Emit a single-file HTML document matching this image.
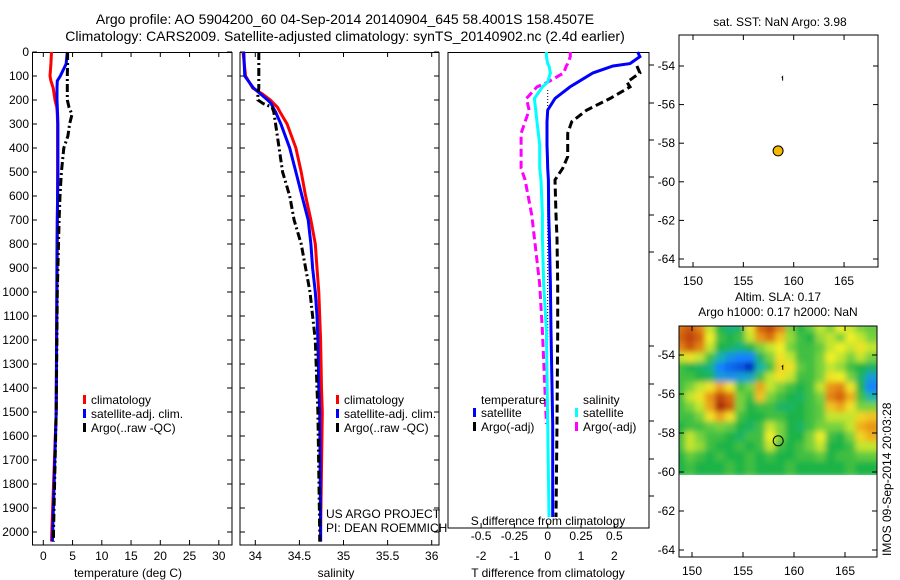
<!DOCTYPE html>
<html><head><meta charset="utf-8"><style>
html,body{margin:0;padding:0;background:#fff}
svg{display:block;font-family:"Liberation Sans",Arial,sans-serif}
text{fill:#000}
</style></head><body>
<svg id="s" width="900" height="580" viewBox="0 0 900 580">
<defs>
<filter id="blur" x="-5%" y="-5%" width="110%" height="110%"><feGaussianBlur stdDeviation="3"/></filter>
<clipPath id="mapclip"><rect x="679" y="326" width="198" height="149"/></clipPath>
</defs>
<text x="345" y="24" font-size="14" text-anchor="middle">Argo profile: AO 5904200_60 04-Sep-2014 20140904_645 58.4001S 158.4507E</text>
<text x="345" y="41" font-size="14" text-anchor="middle">Climatology: CARS2009. Satellite-adjusted climatology: synTS_20140902.nc (2.4d earlier)</text>
<g id="g"></g>
</svg>
<script>
// ---- data ----
const tDepth = [0,50,100,120,150,200,230,260,300,350,400,500,600,700,800,1000,1500,2000,2040];
const tClim  = [1.4,1.3,1.15,1.3,1.7,2.0,2.3,2.4,2.45,2.45,2.45,2.45,2.45,2.4,2.4,2.35,2.2,1.45,1.4];
const tSat   = [4.1,3.9,2.9,2.4,2.35,2.35,2.4,2.45,2.5,2.5,2.5,2.5,2.45,2.4,2.35,2.3,2.2,1.6,1.55];
const tArgo  = [4.15,4.15,4.1,4.1,4.1,4.1,4.4,4.9,4.5,4.2,3.5,3.1,2.85,2.7,2.6,2.4,2.2,1.75,1.75];
const sDepth = [0,100,150,175,200,215,230,250,300,400,500,600,700,800,900,1000,1100,1200,1400,1500,2000,2040];
const sClim  = [33.86,33.89,33.97,34.08,34.17,34.21,34.25,34.28,34.36,34.46,34.52,34.57,34.63,34.68,34.70,34.72,34.73,34.74,34.75,34.76,34.74,34.74];
const sSat   = [33.87,33.88,33.98,34.06,34.14,34.18,34.2,34.23,34.29,34.39,34.46,34.53,34.60,34.63,34.65,34.68,34.70,34.71,34.72,34.73,34.74,34.74];
const sArgo  = [34.04,34.04,34.04,34.03,34.03,34.09,34.19,34.21,34.23,34.27,34.31,34.39,34.44,34.52,34.57,34.62,34.65,34.68,34.70,34.71,34.73,34.73];
const dDepth = [0,20,50,60,90,130,150,200,250,300,350,400,450,500,550,700,800,1000,1200,1600,2000];
const dTsat  = [2.7,2.77,2.47,1.96,1.36,0.9,0.67,0.22,0.0,-0.02,-0.02,-0.02,-0.01,0.0,0.02,0.03,0.05,0.08,0.1,0.15,0.15];
const dTargo = [null,null,null,2.68,2.77,2.38,2.47,1.87,1.17,0.72,0.6,0.6,0.6,0.45,0.22,0.25,0.28,0.3,0.3,0.28,0.25];
const dSsat  = [-0.01,-0.01,0.0,0.01,0.02,0.0,-0.04,-0.1,-0.09,-0.08,-0.07,-0.06,-0.06,-0.06,-0.05,-0.04,-0.04,-0.03,-0.01,0.0,0.01];
const dSargo = [0.17,0.17,0.15,0.14,0.12,0.0,-0.08,-0.16,-0.14,-0.17,-0.2,-0.2,-0.2,-0.2,-0.17,-0.12,-0.1,-0.06,-0.04,-0.01,null];
const depthTicks = [0,100,200,300,400,500,600,700,800,900,1000,1100,1200,1300,1400,1500,1600,1700,1800,1900,2000];
const tempTicks = [0,5,10,15,20,25,30];
const salTicks = [34,34.5,35,35.5,36];
const salTickLabels = ["34","34.5","35","35.5","36"];
const dTTicks = [-2,-1,0,1,2];
const dSTicks = [-0.5,-0.25,0,0.25,0.5];
const dSTickLabels = ["-0.5","-0.25","0","0.25","0.5"];
const lonTicks = [150,155,160,165];
const latTicks = [-54,-56,-58,-60,-62,-64];
const argoLon = 158.45, argoLat = -58.4;
const slaLon0 = 148.6, slaLat0 = -52.5, slaDLon = 0.985, slaDLat = 0.507;
const slaGrid = [
[0.78,0.82,0.75,0.55,0.42,0.38,0.40,0.60,0.80,0.85,0.75,0.50,0.42,0.48,0.55,0.50,0.58,0.55,0.50,0.48],
[0.80,0.85,0.80,0.58,0.45,0.42,0.45,0.55,0.72,0.78,0.65,0.52,0.45,0.42,0.52,0.55,0.50,0.58,0.55,0.50],
[0.75,0.82,0.75,0.55,0.42,0.40,0.38,0.42,0.50,0.55,0.58,0.50,0.45,0.45,0.48,0.55,0.58,0.55,0.60,0.55],
[0.55,0.60,0.55,0.45,0.35,0.28,0.25,0.25,0.40,0.50,0.60,0.55,0.45,0.45,0.50,0.58,0.55,0.50,0.55,0.50],
[0.45,0.42,0.40,0.38,0.25,0.22,0.20,0.15,0.35,0.45,0.62,0.60,0.48,0.45,0.50,0.55,0.52,0.45,0.42,0.40],
[0.45,0.45,0.42,0.40,0.30,0.28,0.30,0.32,0.45,0.55,0.60,0.55,0.45,0.45,0.50,0.60,0.58,0.50,0.40,0.30],
[0.45,0.50,0.55,0.60,0.70,0.60,0.45,0.50,0.70,0.55,0.50,0.45,0.42,0.45,0.55,0.72,0.75,0.60,0.42,0.25],
[0.45,0.55,0.60,0.72,0.85,0.78,0.50,0.45,0.65,0.50,0.45,0.42,0.40,0.45,0.50,0.75,0.80,0.68,0.45,0.35],
[0.45,0.50,0.55,0.70,0.90,0.82,0.50,0.42,0.45,0.45,0.40,0.40,0.42,0.45,0.48,0.65,0.70,0.60,0.50,0.50],
[0.45,0.45,0.50,0.60,0.70,0.60,0.45,0.42,0.42,0.45,0.45,0.42,0.42,0.45,0.48,0.55,0.55,0.55,0.62,0.65],
[0.42,0.45,0.45,0.48,0.50,0.48,0.42,0.40,0.45,0.55,0.50,0.42,0.40,0.45,0.50,0.50,0.50,0.55,0.68,0.72],
[0.45,0.55,0.50,0.45,0.45,0.42,0.40,0.45,0.45,0.58,0.50,0.42,0.42,0.50,0.58,0.45,0.42,0.50,0.62,0.68],
[0.45,0.55,0.52,0.45,0.42,0.42,0.45,0.42,0.45,0.55,0.45,0.42,0.45,0.50,0.55,0.42,0.42,0.45,0.55,0.55],
[0.42,0.48,0.45,0.42,0.45,0.42,0.42,0.45,0.42,0.45,0.42,0.42,0.45,0.45,0.48,0.42,0.45,0.45,0.48,0.48],
[0.42,0.45,0.42,0.42,0.42,0.45,0.42,0.45,0.42,0.42,0.42,0.45,0.42,0.42,0.42,0.42,0.42,0.45,0.42,0.42]];

// ---- scales ----
const yP = d => 52 + d*0.24;
const yD = d => 52 + d*0.2325;
const xT = t => 43.3 + t*5.85;
const xS = s => 255.3 + (s-34)*88.2;
const xDT = v => 547.7 + v*33.3;
const xDS = v => 547.7 + v*133.2;
const xLon1 = l => 693 + (l-150)*10.07;
const yLat1 = l => 66 + (-54-l)*19.3;
const xLon2 = l => 692 + (l-150)*10.2;
const yLat2 = l => 355 + (-54-l)*19.5;

const NS='http://www.w3.org/2000/svg';
const G=document.getElementById('g');
function mk(tag,attrs,parent){const e=document.createElementNS(NS,tag);for(const k in attrs)e.setAttribute(k,attrs[k]);(parent||G).appendChild(e);return e;}
function txt(x,y,s,size,anchor,parent){const e=mk('text',{x:x,y:y,'font-size':size||12,'text-anchor':anchor||'start'},parent);e.textContent=s;return e;}
function line(xs,ys,color,w,dash,name){
  let d='';let pen=false;
  for(let i=0;i<ys.length;i++){ if(xs[i]===null){pen=false;continue;} d+=(pen?'L':'M')+xs[i].toFixed(1)+' '+ys[i].toFixed(1); pen=true;}
  const p=mk('path',{d:d,fill:'none',stroke:color,'stroke-width':w});
  if(dash)p.setAttribute('stroke-dasharray',dash);
  
  
  return p;
}
function box(x,y,w,h,name){const r=mk('rect',{x:x,y:y,width:w,height:h,fill:'none',stroke:'#000','stroke-width':1});return r;}

// ---- panel 1 temperature ----
const p1=mk('g',{});
box(32.5,52.5,199.5,492.5,'temperature-axes');
depthTicks.forEach(d=>{const y=yP(d);mk('line',{x1:32.5,x2:37,y1:y,y2:y,stroke:'#000'},p1);mk('line',{x1:227,x2:232,y1:y,y2:y,stroke:'#000'},p1);
 const t=txt(29,y+4,String(d),12,'end',p1);});
tempTicks.forEach(v=>{const x=xT(v);mk('line',{x1:x,x2:x,y1:540,y2:545,stroke:'#000'},p1);mk('line',{x1:x,x2:x,y1:52.5,y2:57,stroke:'#000'},p1);
 const t=txt(x,560,String(v),12,'middle',p1);});
const xl1=txt(128,577,'temperature (deg C)',12,'middle',p1);
line(tClim.map(xT),tDepth.map(yP),'#f00',3,null,'temp-climatology-line');
line(tSat.map(xT),tDepth.map(yP),'#00f',3,null,'temp-satellite-line');
line(tArgo.map(xT),tDepth.map(yP),'#000',3,'8,3,2,3','temp-argo-line');

function legend3(x,y,name){
  const lg=mk('g',{});
  [['#f00','climatology'],['#00f','satellite-adj. clim.'],['#000','Argo(..raw -QC)']].forEach((e,i)=>{
    mk('rect',{x:x,y:y+i*14-5,width:3,height:9,fill:e[0]},lg);txt(x+8,y+i*14+4,e[1],12,'start',lg);});
}
legend3(83,400,'temperature-legend');

// ---- panel 2 salinity ----
const p2=mk('g',{});
box(240,52.5,199,492.5,'salinity-axes');
depthTicks.forEach(d=>{const y=yP(d);mk('line',{x1:240,x2:245,y1:y,y2:y,stroke:'#000'},p2);mk('line',{x1:434,x2:439,y1:y,y2:y,stroke:'#000'},p2);});
salTicks.forEach((v,i)=>{const x=xS(v);mk('line',{x1:x,x2:x,y1:540,y2:545,stroke:'#000'},p2);mk('line',{x1:x,x2:x,y1:52.5,y2:57,stroke:'#000'},p2);
 const t=txt(x,560,salTickLabels[i],12,'middle',p2);});
const xl2=txt(336,577,'salinity',12,'middle',p2);
line(sClim.map(xS),sDepth.map(yP),'#f00',3,null,'sal-climatology-line');
line(sSat.map(xS),sDepth.map(yP),'#00f',3,null,'sal-satellite-line');
line(sArgo.map(xS),sDepth.map(yP),'#000',3,'8,3,2,3','sal-argo-line');
legend3(336,400,'salinity-legend');
const c1=txt(326,518,'US ARGO PROJECT',12);
const c2=txt(326,532,'PI: DEAN ROEMMICH',12);

// ---- panel 3 differences ----
const p3=mk('g',{});
box(448,52.5,201,475.5,'difference-axes');
[65,103,140,177,215,252,346,384,421,459,496].forEach(y=>mk('line',{x1:649,x2:654,y1:y,y2:y,stroke:'#000'},p3));
mk('line',{x1:547.7,x2:547.7,y1:90,y2:340,stroke:'#000','stroke-dasharray':'1,2'},p3);
dTTicks.forEach(v=>{const x=xDT(v);mk('line',{x1:x,x2:x,y1:523,y2:528,stroke:'#000'},p3);
 const t=txt(x,560,String(v),12,'middle',p3);});
dSTicks.forEach((v,i)=>{const t=txt(xDS(v),540,dSTickLabels[i],12,'middle',p3);});
const sl=txt(548,525,'S difference from climatology',12,'middle',p3);
const tl=txt(548,577,'T difference from climatology',12,'middle',p3);
line(dTargo.map(v=>v===null?null:xDT(v)),dDepth.map(yD),'#000',3,'8,4','t-diff-argo-line');
line(dSargo.map(v=>v===null?null:xDS(v)),dDepth.map(yD),'#f0f',3,'8,4','s-diff-argo-line');
line(dTsat.map(xDT),dDepth.map(yD),'#00f',3,null,'t-diff-satellite-line');
line(dSsat.map(xDS),dDepth.map(yD),'#0ff',3,null,'s-diff-satellite-line');
const lg3=mk('g',{});
txt(481,404,'temperature',12,'start',lg3);txt(583,404,'salinity',12,'start',lg3);
[['#00f',473,'satellite',417],['#000',473,'Argo(-adj)',431],['#0ff',575,'satellite',417],['#f0f',575,'Argo(-adj)',431]].forEach(e=>{
 mk('rect',{x:e[1],y:e[3]-9,width:3,height:9,fill:e[0]},lg3);txt(e[1]+8,e[3],e[2],12,'start',lg3);});

// ---- map 1: SST ----
const m1=mk('g',{});
txt(780,26,'sat. SST: NaN Argo: 3.98',12,'middle',m1);
box(679,35,199,232,'sst-map-axes');
lonTicks.forEach(v=>{const x=xLon1(v);mk('line',{x1:x,x2:x,y1:262,y2:267,stroke:'#000'},m1);mk('line',{x1:x,x2:x,y1:35,y2:40,stroke:'#000'},m1);txt(x,285,String(v),12,'middle',m1);});
latTicks.forEach(v=>{const y=yLat1(v);mk('line',{x1:679,x2:684,y1:y,y2:y,stroke:'#000'},m1);mk('line',{x1:873,x2:878,y1:y,y2:y,stroke:'#000'},m1);txt(675,y+4,String(v),12,'end',m1);});
const a1=mk('circle',{cx:xLon1(argoLon),cy:yLat1(argoLat),r:5,fill:'#f8b800',stroke:'#000','stroke-width':1},m1);

mk('path',{d:`M${xLon1(158.8)} ${yLat1(-54.6)} l1 -1 v4`,stroke:'#000',fill:'none','stroke-width':1},m1);

// ---- map 2: SLA ----
const m2=mk('g',{});
txt(778,301,'Altim. SLA: 0.17',12,'middle',m2);
txt(778,316,'Argo h1000: 0.17 h2000: NaN',12,'middle',m2);
const stops=[[0.15,[0,40,190]],[0.25,[20,130,255]],[0.35,[20,180,170]],[0.42,[30,180,70]],[0.5,[120,210,60]],[0.58,[240,240,40]],[0.68,[240,175,30]],[0.78,[220,110,15]],[0.9,[170,40,10]]];
function cmap(v){if(v<=stops[0][0])return stops[0][1];for(let i=1;i<stops.length;i++){if(v<=stops[i][0]){const a=stops[i-1],b=stops[i],f=(v-a[0])/(b[0]-a[0]);return a[1].map((c,k)=>Math.round(c+(b[1][k]-c)*f));}}return stops[stops.length-1][1];}
const cl=mk('g',{'clip-path':'url(#mapclip)'},m2);
const hm=mk('g',{filter:'url(#blur)'},cl);

slaGrid.forEach((row,r)=>row.forEach((v,c)=>{
  const x0=xLon2(slaLon0+c*slaDLon)-3,x1=xLon2(slaLon0+(c+1)*slaDLon)+3;
  const y0=yLat2(slaLat0-r*slaDLat)-3,y1=yLat2(slaLat0-(r+1)*slaDLat)+3;
  const col=cmap(v);
  const cell=mk('rect',{x:x0,y:y0,width:x1-x0,height:y1-y0,fill:`rgb(${col})`},hm);
  
  
}));
box(679,326,198,231,'sla-map-axes');
lonTicks.forEach(v=>{const x=xLon2(v);mk('line',{x1:x,x2:x,y1:552,y2:557,stroke:'#000'},m2);mk('line',{x1:x,x2:x,y1:326,y2:331,stroke:'#000'},m2);txt(x,575,String(v),12,'middle',m2);});
latTicks.forEach(v=>{const y=yLat2(v);mk('line',{x1:679,x2:684,y1:y,y2:y,stroke:'#000'},m2);mk('line',{x1:872,x2:877,y1:y,y2:y,stroke:'#000'},m2);txt(675,y+4,String(v),12,'end',m2);});
const a2=mk('circle',{cx:xLon2(argoLon),cy:yLat2(argoLat),r:5,fill:'none',stroke:'#000','stroke-width':1},m2);

mk('path',{d:`M${xLon2(158.8)} ${yLat2(-54.6)} l1 -1 v4`,stroke:'#000',fill:'none','stroke-width':1},m2);
const im=txt(0,0,'IMOS 09-Sep-2014 20:03:28',12,'start');
im.setAttribute('transform','translate(891,556) rotate(-90)');


</script>
</body></html>
